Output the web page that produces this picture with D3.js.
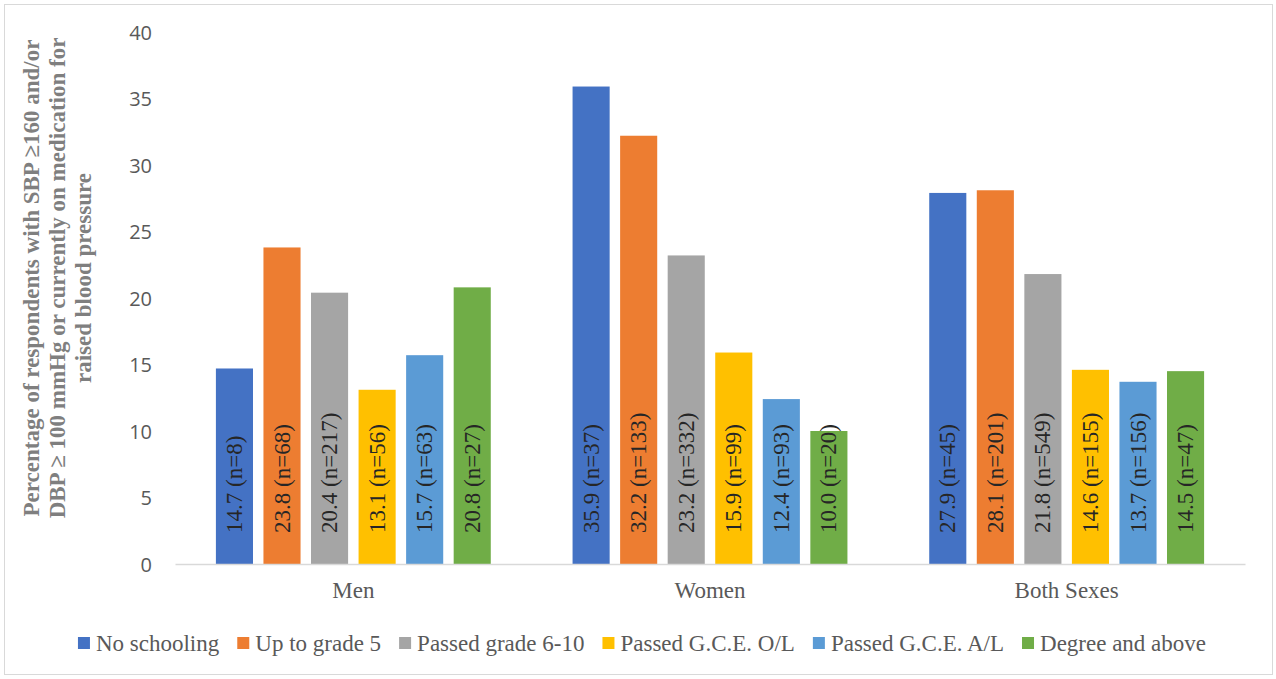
<!DOCTYPE html>
<html>
<head>
<meta charset="utf-8">
<script src="https://cdn.jsdelivr.net/npm/d3@7"></script>
<style>
  html, body { margin: 0; padding: 0; background: #fff; }
  svg { display: block; }
</style>
</head>
<body>
<svg id="chart" width="1276" height="679"></svg>
<script>
const groups = ["Men", "Women", "Both Sexes"];
const series = ["No schooling", "Up to grade 5", "Passed grade 6-10", "Passed G.C.E. O/L", "Passed G.C.E. A/L", "Degree and above"];
const colors = ["#4472C4", "#ED7D31", "#A5A5A5", "#FFC000", "#5B9BD5", "#70AD47"];
const menValues = [14.7, 23.8, 20.4, 13.1, 15.7, 20.8];
const menN = [8, 68, 217, 56, 63, 27];
const womenValues = [35.9, 32.2, 23.2, 15.9, 12.4, 10.0];
const womenN = [37, 133, 332, 99, 93, 20];
const bothValues = [27.9, 28.1, 21.8, 14.6, 13.7, 14.5];
const bothN = [45, 201, 549, 155, 156, 47];
const yTicks = [0, 5, 10, 15, 20, 25, 30, 35, 40];
const titleLines = ["Percentage of respondents with SBP \u2265160 and/or", "DBP \u2265 100 mmHg or currently on medication for", "raised blood pressure"];

const valuesByGroup = [menValues, womenValues, bothValues];
const nByGroup = [menN, womenN, bothN];
const data = [];
groups.forEach((g, gi) => {
  series.forEach((s, si) => {
    data.push({ group: g, series: s, si, value: valuesByGroup[gi][si], n: nByGroup[gi][si] });
  });
});

const svg = d3.select("#chart");
const serif = "'Liberation Serif', 'Times New Roman', serif";

// outer border
svg.append("rect").attr("x", 4.5).attr("y", 4.5).attr("width", 1268).attr("height", 670)
  .attr("fill", "#fff").attr("stroke", "#d9d9d9").attr("stroke-width", 1);

const x0 = d3.scaleBand().domain(groups).range([175, 1245]).padding(0);
const x1 = d3.scaleBand().domain(series).range([0, x0.bandwidth()]).paddingInner(0.22).paddingOuter(0.86);
const y = d3.scaleLinear().domain([0, 40]).range([564, 32]);

// y tick labels
const yAxis = d3.axisLeft(y).tickValues(yTicks).tickSize(0).tickPadding(0);
const yg = svg.append("g").attr("transform", "translate(152,0)").call(yAxis);
yg.select(".domain").remove();
yg.selectAll("text").attr("font-family", "'Open Sans', sans-serif").attr("font-size", 20)
  .attr("fill", "#595959").attr("dy", "0.35em");

// bars
const bars = svg.append("g");
bars.selectAll("rect").data(data).join("rect")
  .attr("x", d => x0(d.group) + x1(d.series))
  .attr("y", d => y(d.value))
  .attr("width", x1.bandwidth())
  .attr("height", d => y(0) - y(d.value))
  .attr("fill", d => colors[d.si]);

// x axis baseline
const xAxis = d3.axisBottom(x0).tickSize(0).tickPadding(0);
const xg = svg.append("g").attr("transform", `translate(0,${y(0)})`).call(xAxis);
xg.select(".domain").attr("stroke", "#d9d9d9").attr("stroke-width", 1.5);
xg.selectAll("text").attr("font-family", serif).attr("font-size", 23)
  .attr("fill", "#595959").attr("dy", "1.05em").attr("y", 10);

// bar labels
bars.selectAll("text.lbl").data(data).join("text").attr("class", "lbl")
  .attr("transform", d => `translate(${x0(d.group) + x1(d.series) + x1.bandwidth() / 2},${y(0) - 31}) rotate(-90)`)
  .attr("text-anchor", "start")
  .attr("dominant-baseline", "central")
  .attr("font-family", serif).attr("font-size", 23).attr("fill", "#262626")
  .text(d => `${d.value.toFixed(1)} (n=${d.n})`);

// y title
const title = svg.append("text")
  .attr("transform", "translate(0,278) rotate(-90)")
  .attr("text-anchor", "middle")
  .attr("font-family", serif).attr("font-size", 23).attr("font-weight", "bold").attr("fill", "#7f7f7f");
titleLines.forEach((t, i) => {
  title.append("tspan").attr("x", 0).attr("y", 39 + i * 26).text(t);
});

// legend
const legend = svg.append("g");
const items = legend.selectAll("g").data(series).join("g");
items.append("rect").attr("width", 12).attr("height", 12).attr("y", -6).attr("fill", (d, i) => colors[i]);
items.append("text").attr("x", 18).attr("dy", "0.35em")
  .attr("font-family", serif).attr("font-size", 23).attr("fill", "#595959").text(d => d);
let cx = 0;
items.each(function () {
  const w = 18 + d3.select(this).select("text").node().getComputedTextLength();
  d3.select(this).attr("transform", `translate(${cx},0)`);
  cx += w + 18;
});
const total = cx - 18;
legend.attr("transform", `translate(${642 - total / 2},643)`);
</script>
</body>
</html>
